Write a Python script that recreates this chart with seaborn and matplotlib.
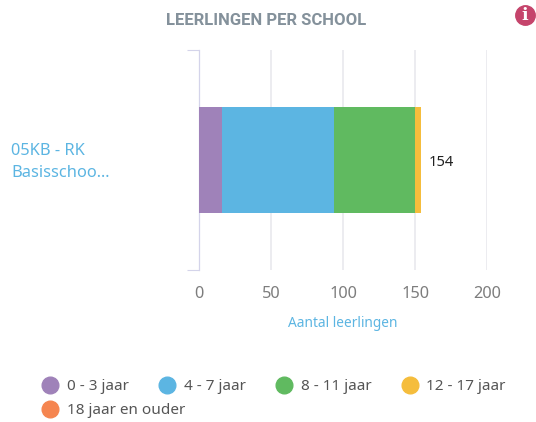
import matplotlib.pyplot as plt
from matplotlib.lines import Line2D
import numpy as np
import pandas as pd
import seaborn as sns

SCHOOL = "05KB - RK\nBasisschoo..."
AGE_GROUPS = ["0 - 3 jaar", "4 - 7 jaar", "8 - 11 jaar", "12 - 17 jaar", "18 jaar en ouder"]
COUNTS = [16, 78, 56, 4, 0]
COLORS = ["#9f82b9", "#5cb5e2", "#60ba60", "#f5bd3c", "#f58550"]
X_TICKS = [0, 50, 100, 150, 200]
TITLE = "LEERLINGEN PER SCHOOL"
X_LABEL = "Aantal leerlingen"

W, H = 536, 422


def add_legend(fig, handles, top):
    legend = fig.legend(
        handles=handles,
        ncol=len(handles),
        frameon=False,
        loc="upper left",
        bbox_to_anchor=(35 / W, 1 - top / H),
        fontsize=11,
        labelcolor="#555555",
        handletextpad=0.1,
        columnspacing=1.5,
        borderaxespad=0,
        borderpad=0,
    )
    return legend


def run():
    sns.set_theme(style="white")
    plt.rcParams["font.family"] = ["Noto Sans", "DejaVu Sans"]

    fig = plt.figure(figsize=(W / 100, H / 100), dpi=100)
    ax = fig.add_axes([199 / W, 1 - 270 / H, 288 / W, 220 / H])

    # stacked look: cumulative bars painted from longest to shortest
    df = pd.DataFrame({"age": AGE_GROUPS, "total": np.cumsum(COUNTS), "school": SCHOOL})
    sns.barplot(
        data=df,
        x="total",
        y="school",
        hue="age",
        hue_order=AGE_GROUPS[::-1],
        palette=dict(zip(AGE_GROUPS, COLORS)),
        dodge=False,
        width=0.485,
        legend=False,
        saturation=1,
        linewidth=0,
        zorder=3,
        ax=ax,
    )

    ax.set_xlim(0, 200)
    ax.set_ylim(0.5, -0.5)
    ax.set_xticks(X_TICKS)
    ax.set_yticks([-0.5, 0.5])
    ax.set_yticklabels([])
    ax.set_ylabel("")
    ax.grid(axis="x", color="#ececf0", linewidth=1.4, zorder=0)
    ax.grid(axis="y", visible=False)
    sns.despine(ax=ax, top=True, right=True, bottom=True)
    ax.spines["left"].set_color("#d4d4ea")
    ax.spines["left"].set_linewidth(0.9)
    ax.tick_params(axis="y", length=8.5, width=0.8, color="#d4d4ea", left=True)
    ax.tick_params(axis="x", length=0, pad=11.7, labelsize=11.8, labelcolor="#7d7d7d")

    ax.set_xlabel(X_LABEL, fontsize=9.9, color="#5cb5e2", labelpad=10)
    fig.text(266 / W, 1 - 20.5 / H, TITLE, ha="center", va="center", fontsize=12,
             fontweight="bold", family="Roboto", color="#84919b")

    fig.text(11 / W, 1 - 162 / H, SCHOOL, ha="left", va="center", fontsize=11.8,
             color="#5cb5e2", linespacing=1.55)
    ax.annotate(str(sum(COUNTS)), (sum(COUNTS), 0), xytext=(6, -1.5), textcoords="offset points",
                ha="left", va="center", fontsize=10.6, color="#222222")

    # info icon
    fig.add_artist(Line2D([525 / W], [1 - 15 / H], marker="o", markersize=14,
                          color="#c5446b", linestyle="none", transform=fig.transFigure))
    fig.text(525 / W, 1 - 15 / H, "i", ha="center", va="center", fontsize=12.5,
             fontweight="bold", family="DejaVu Serif", color="white")

    handles = [
        Line2D([], [], marker="o", linestyle="none", markersize=12, color=color, label=age)
        for age, color in zip(AGE_GROUPS, COLORS)
    ]
    add_legend(fig, handles[:4], 379.5)
    add_legend(fig, handles[4:], 403.5)

    fig.savefig("out.png", dpi=100)
    plt.close(fig)


if __name__ == "__main__":
    run()
